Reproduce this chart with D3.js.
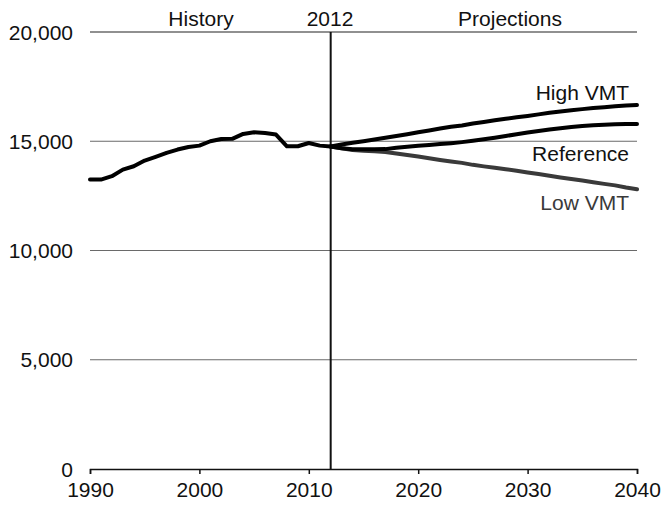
<!DOCTYPE html>
<html>
<head>
<meta charset="utf-8">
<script src="https://cdn.jsdelivr.net/npm/d3@7"></script>
<style>
  body { margin: 0; background: #fff; }
  svg text { font-family: "Liberation Sans", Arial, sans-serif; }
</style>
</head>
<body>
<svg width="663" height="508"></svg>
<script>
const histYears = d3.range(1990, 2013);
const history = [13245, 13245, 13400, 13700, 13855, 14115, 14285, 14465, 14620, 14740,
  14800, 15000, 15105, 15110, 15335, 15410, 15380, 15305, 14770, 14770,
  14920, 14800, 14760];

const projYears = d3.range(2012, 2041);
const highVMT = [14760, 14850, 14930, 15000, 15080, 15160, 15240, 15320, 15410, 15490,
  15580, 15660, 15720, 15810, 15880, 15960, 16030, 16100, 16160, 16230,
  16300, 16360, 16420, 16470, 16520, 16560, 16600, 16640, 16660];
const reference = [14760, 14680, 14630, 14630, 14630, 14640, 14700, 14750, 14790, 14830,
  14870, 14910, 14960, 15020, 15090, 15160, 15240, 15320, 15400, 15470,
  15540, 15600, 15650, 15700, 15730, 15760, 15780, 15790, 15790];
const lowVMT = [14760, 14680, 14600, 14570, 14540, 14510, 14440, 14370, 14300, 14220,
  14140, 14070, 14010, 13920, 13850, 13790, 13720, 13650, 13570, 13500,
  13420, 13340, 13270, 13200, 13120, 13050, 12980, 12880, 12800];

const xTicks = [1990, 2000, 2010, 2020, 2030, 2040];
const yTicks = [0, 5000, 10000, 15000, 20000];

const svg = d3.select('svg');
const x = d3.scaleLinear().domain([1990, 2040]).range([90, 637]);
const y = d3.scaleLinear().domain([0, 20000]).range([469, 32]);

// gridlines
svg.append('g')
  .selectAll('line')
  .data(yTicks.filter(d => d > 0))
  .join('line')
    .attr('x1', x(1990)).attr('x2', x(2040))
    .attr('y1', d => y(d)).attr('y2', d => y(d))
    .attr('stroke', d => d === 20000 ? '#222' : '#6a6a6a')
    .attr('stroke-width', 1.2);

// y labels
svg.append('g')
  .selectAll('text')
  .data(yTicks)
  .join('text')
    .attr('x', 73)
    .attr('y', d => y(d))
    .attr('dy', '0.36em')
    .attr('text-anchor', 'end')
    .attr('font-size', 21)
    .attr('fill', '#111')
    .text(d => d3.format(',')(d));

// x axis
const xAxis = svg.append('g')
  .attr('transform', `translate(0, ${y(0)})`)
  .call(d3.axisBottom(x).tickValues(xTicks).tickFormat(d3.format('d'))
    .tickSize(5).tickSizeOuter(5).tickPadding(8));
xAxis.select('.domain').attr('stroke', '#111').attr('stroke-width', 1.5);
xAxis.selectAll('.tick line').attr('stroke', '#111').attr('stroke-width', 1.5);
xAxis.selectAll('.tick text')
  .attr('font-size', 21)
  .attr('fill', '#111')
  .attr('font-family', '"Liberation Sans", Arial, sans-serif');

// 2012 divider
svg.append('line')
  .attr('x1', x(2012)).attr('x2', x(2012))
  .attr('y1', y(20000)).attr('y2', y(0))
  .attr('stroke', '#111')
  .attr('stroke-width', 2);

const line = d3.line()
  .x(d => x(d[0]))
  .y(d => y(d[1]));

const series = [
  { years: projYears, vals: lowVMT, color: '#3a3a3a' },
  { years: projYears, vals: reference, color: '#000' },
  { years: projYears, vals: highVMT, color: '#000' },
  { years: histYears, vals: history, color: '#000' }
];

svg.append('g')
  .selectAll('path')
  .data(series)
  .join('path')
    .attr('d', s => line(s.years.map((yr, i) => [yr, s.vals[i]])))
    .attr('fill', 'none')
    .attr('stroke', s => s.color)
    .attr('stroke-width', 4)
    .attr('stroke-linejoin', 'round')
    .attr('stroke-linecap', 'round');

// headers
const headers = [
  { t: 'History', x: 201 },
  { t: '2012', x: 330 },
  { t: 'Projections', x: 510 }
];
svg.append('g')
  .selectAll('text')
  .data(headers)
  .join('text')
    .attr('x', d => d.x)
    .attr('y', 26)
    .attr('text-anchor', 'middle')
    .attr('font-size', 21)
    .attr('fill', '#111')
    .text(d => d.t);

// series labels
const labels = [
  { t: 'High VMT', y: 100, c: '#111' },
  { t: 'Reference', y: 161, c: '#111' },
  { t: 'Low VMT', y: 210, c: '#3a3a3a' }
];
svg.append('g')
  .selectAll('text')
  .data(labels)
  .join('text')
    .attr('x', 629)
    .attr('y', d => d.y)
    .attr('text-anchor', 'end')
    .attr('font-size', 21)
    .attr('fill', d => d.c)
    .text(d => d.t);
</script>
</body>
</html>
